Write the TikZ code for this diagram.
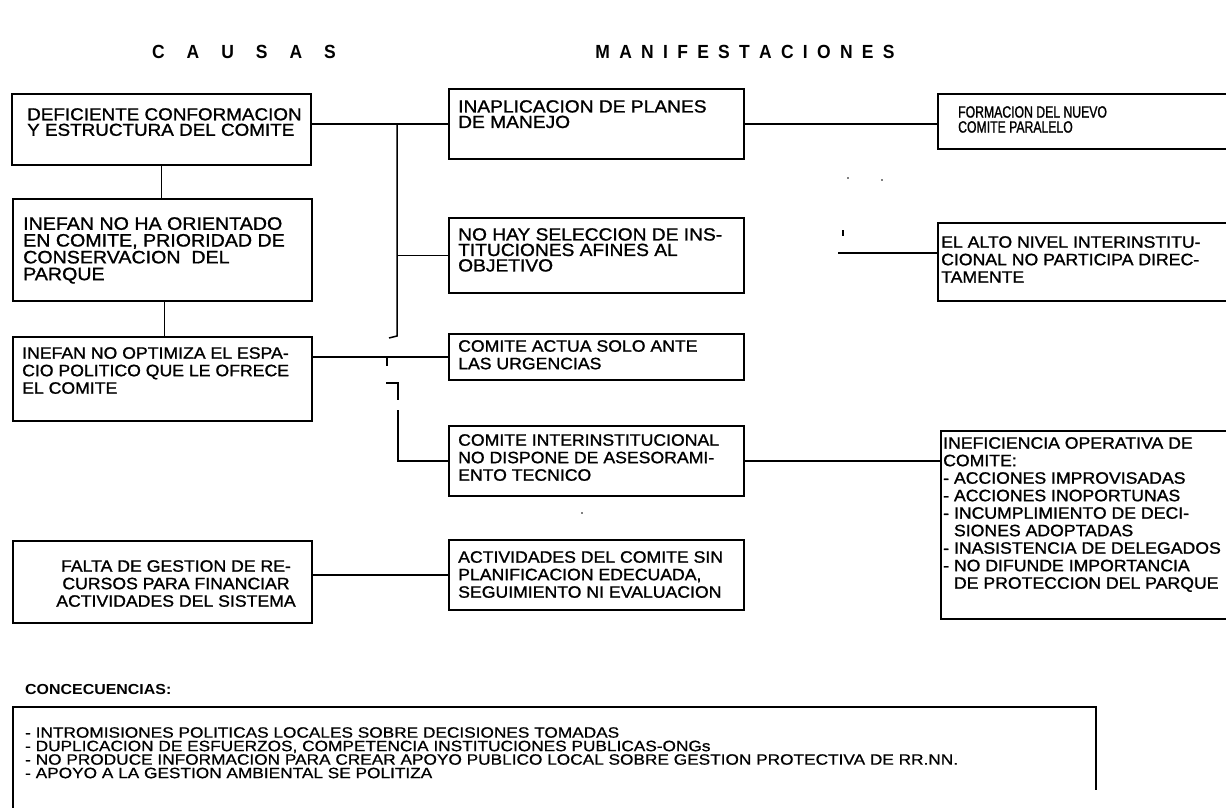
\documentclass[tikz,border=0pt]{standalone}
\usepackage{fontspec}
\setmainfont{Liberation Sans}
\newfontfamily\boxfont{Liberation Sans}[FakeStretch=1.07,FakeBold=1.2]
\newfontfamily\bigfont{Liberation Sans}[FakeStretch=1.09,FakeBold=1.2]
\newfontfamily\narfont{Liberation Sans}[FakeStretch=0.75,FakeBold=1.2]
\newfontfamily\consfont{Liberation Sans}[FakeStretch=1.15,FakeBold=0.8]
\newfontfamily\ccfont{Liberation Sans Bold}[FakeStretch=1.1]
\newfontfamily\ttlfont{Liberation Sans Bold}[FakeStretch=0.92]
\usetikzlibrary{calc}
\begin{document}
\begin{tikzpicture}[x=1pt,y=-1pt,
  bx/.style={draw, line width=1.5pt, inner sep=0pt, anchor=north west},
  tx/.style={anchor=north west, inner sep=0pt, align=left, font=\boxfont\fontsize{16.5}{17.5}\selectfont},
  txbig/.style={tx, font=\bigfont\fontsize{18}{16.8}\selectfont},
  txnar/.style={tx, font=\narfont\fontsize{16.3}{15}\selectfont},
  ln/.style={line width=1.5pt},
  ttl/.style={font=\ttlfont\fontsize{19}{20}\selectfont, inner sep=0pt},
  speck/.style={fill=black}]
\clip (0,0) rectangle (1226,808);
\fill[white] (0,0) rectangle (1226,808);

% titles
\node[ttl] (tc) at (244,52) {C\hspace{22pt}A\hspace{22pt}U\hspace{22pt}S\hspace{22pt}A\hspace{22pt}S};
\node[ttl] (tm) at (745,52) {M\hspace{9.3pt}A\hspace{9.3pt}N\hspace{9.3pt}I\hspace{9.3pt}F\hspace{9.3pt}E\hspace{9.3pt}S\hspace{9.3pt}T\hspace{9.3pt}A\hspace{9.3pt}C\hspace{9.3pt}I\hspace{9.3pt}O\hspace{9.3pt}N\hspace{9.3pt}E\hspace{9.3pt}S};

% left column
\node[bx, minimum width=299pt, minimum height=71pt] (L1) at (11,93) {};
\node[txbig, font=\bigfont\fontsize{17.3}{15.5}\selectfont] (L1t) at (27,108) {DEFICIENTE CONFORMACION\\Y ESTRUCTURA DEL COMITE};
\node[bx, minimum width=299pt, minimum height=102pt] (L2) at (12,198) {};
\node[txbig] (L2t) at (23,217) {INEFAN NO HA ORIENTADO\\EN COMITE, PRIORIDAD DE\\CONSERVACION\ \ DEL\\PARQUE};
\node[bx, minimum width=299pt, minimum height=84pt] (L3) at (12,336) {};
\node[tx] (L3t) at (22,347) {INEFAN NO OPTIMIZA EL ESPA-\\CIO POLITICO QUE LE OFRECE\\EL COMITE};
\node[bx, minimum width=299pt, minimum height=82pt] (L4) at (12,540) {};
\node[tx, align=center, anchor=north] (L4t) at (176,560) {FALTA DE GESTION DE RE-\\CURSOS PARA FINANCIAR\\ACTIVIDADES DEL SISTEMA};

% middle column
\node[bx, minimum width=295pt, minimum height=70pt] (M1) at (448,88) {};
\node[txbig, font=\bigfont\fontsize{17.6}{15.5}\selectfont] (M1t) at (458,100) {INAPLICACION DE PLANES\\DE MANEJO};
\node[bx, minimum width=295pt, minimum height=75pt] (M2) at (448,217) {};
\node[txbig, font=\bigfont\fontsize{17.6}{15.5}\selectfont] (M2t) at (458,228) {NO HAY SELECCION DE INS-\\TITUCIONES AFINES AL\\OBJETIVO};
\node[bx, minimum width=295pt, minimum height=46pt] (M3) at (448,333) {};
\node[tx] (M3t) at (458,340) {COMITE ACTUA SOLO ANTE\\LAS URGENCIAS};
\node[bx, minimum width=295pt, minimum height=70pt] (M4) at (448,425) {};
\node[tx] (M4t) at (458,434) {COMITE INTERINSTITUCIONAL\\NO DISPONE DE ASESORAMI-\\ENTO TECNICO};
\node[bx, minimum width=295pt, minimum height=70pt] (M5) at (448,539) {};
\node[tx] (M5t) at (458,551) {ACTIVIDADES DEL COMITE SIN\\PLANIFICACION EDECUADA,\\SEGUIMIENTO NI EVALUACION};

% right column
\node[bx, minimum width=300pt, minimum height=55pt] (R1) at (937,93) {};
\node[txnar] (R1t) at (958,106) {FORMACION DEL NUEVO\\COMITE PARALELO};
\node[bx, minimum width=300pt, minimum height=78pt] (R2) at (937,222) {};
\node[tx] (R2t) at (941,236) {EL ALTO NIVEL INTERINSTITU-\\CIONAL NO PARTICIPA DIREC-\\TAMENTE};
\node[bx, minimum width=300pt, minimum height=188pt] (R3) at (940,430) {};
\node[tx] (R3t) at (943,437) {INEFICIENCIA OPERATIVA DE\\COMITE:\\- ACCIONES IMPROVISADAS\\- ACCIONES INOPORTUNAS\\- INCUMPLIMIENTO DE DECI-\\\phantom{- }SIONES ADOPTADAS\\- INASISTENCIA DE DELEGADOS\\- NO DIFUNDE IMPORTANCIA\\\phantom{- }DE PROTECCION DEL PARQUE};

% connectors
\draw[ln] (L1.south) -- (L1.south |- L2.north);
\draw[ln] ([xshift=2pt]L2.south) -- ([xshift=2pt]L2.south |- L3.north);
\draw[ln] (L1.east |- M1.west) -- (M1.west);
\coordinate (tt) at (397,123);
\coordinate (tb) at (397,336);
\draw[ln] (tt) -- (tb) -- ++(-8,2);
\draw[ln] (tt |- M2.west) -- (M2.west);
\draw[ln] (L3.east |- M3.west) -- (M3.west);
\coordinate (ja) at (387,356);
\draw[ln] (ja) -- ++(0,10);
\coordinate (jb) at (386,383);
\coordinate (jc) at (398,383);
\draw[ln] (jb) -- (jc) -- ++(0,17);
\coordinate (jd) at (398,410);
\draw[ln] (jd) -- (jd |- M4.west) -- (M4.west);
\draw[ln] (L4.east |- M5.west) -- (M5.west);
\draw[ln] (M1.east) -- (M1.east -| R1.west);
\coordinate (rs) at (838,253);
\draw[ln] (rs) -- (rs -| R2.west);
\draw[ln] (M4.east) -- (M4.east -| R3.west);

% specks
\fill[speck] (848,178) circle (0.9);
\fill[speck] (882,180) circle (0.9);
\fill[speck] (842,230) rectangle (843.5,236);
\fill[speck] (582,513) circle (0.8);

% consequences
\node[anchor=west, inner sep=0pt, font=\ccfont\fontsize{14.5}{15}\selectfont] (cc) at (25,690) {CONCECUENCIAS:};
\coordinate (ca) at (13,808);
\coordinate (cb) at (1096,790);
\draw[ln] (ca) -- (ca |- 0,707) -- (cb |- 0,707) -- (cb);
\node[anchor=north west, inner sep=0pt, align=left, font=\consfont\fontsize{15}{13.5}\selectfont] (ct) at (25,727)
 {- INTROMISIONES POLITICAS LOCALES SOBRE DECISIONES TOMADAS\\
  - DUPLICACION DE ESFUERZOS, COMPETENCIA INSTITUCIONES PUBLICAS-ONGs\\
  - NO PRODUCE INFORMACION PARA CREAR APOYO PUBLICO LOCAL SOBRE GESTION PROTECTIVA DE RR.NN.\\
  - APOYO A LA GESTION AMBIENTAL SE POLITIZA};
\end{tikzpicture}
\end{document}
